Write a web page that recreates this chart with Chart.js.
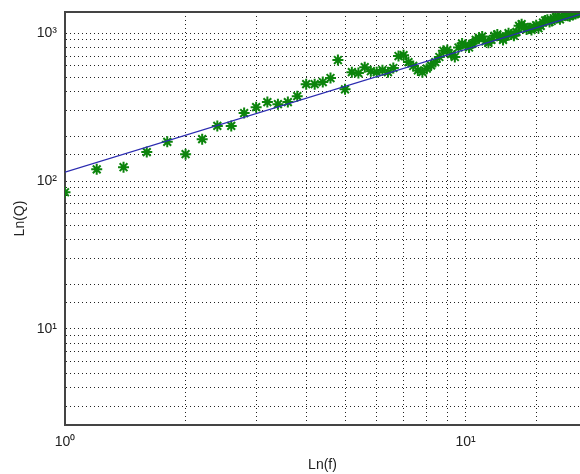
<!DOCTYPE html>
<html>
<head>
<meta charset="utf-8">
<script src="https://cdn.jsdelivr.net/npm/chart.js@4/dist/chart.umd.min.js"></script>
<style>
  html, body { margin: 0; padding: 0; background: #fff; }
</style>
</head>
<body>
<canvas id="fitChart" width="580" height="474"></canvas>
<script>
const fValues = [
  1.0, 1.2, 1.4, 1.6, 1.8, 2.0, 2.2, 2.4, 2.6, 2.8,
  3.0, 3.2, 3.4, 3.6, 3.8, 4.0, 4.2, 4.4, 4.6, 4.8,
  5.0, 5.2, 5.4, 5.6, 5.8, 6.0, 6.2, 6.4, 6.6, 6.8,
  7.0, 7.2, 7.4, 7.6, 7.8, 8.0, 8.2, 8.4, 8.6, 8.8,
  9.0, 9.2, 9.4, 9.6, 9.8, 10.0, 10.2, 10.4, 10.6, 10.8,
  11.0, 11.2, 11.4, 11.6, 11.8, 12.0, 12.2, 12.4, 12.6, 12.8,
  13.0, 13.2, 13.4, 13.6, 13.8, 14.0, 14.2, 14.4, 14.6, 14.8,
  15.0, 15.2, 15.4, 15.6, 15.8, 16.0, 16.2, 16.4, 16.6, 16.8,
  17.0, 17.2, 17.4, 17.6, 17.8, 18.0, 18.2, 18.4, 18.6, 18.8,
  19.0, 19.2
];
const qValues = [
  84, 120, 124, 157, 184, 152, 192, 236, 236, 288,
  316, 342, 331, 342, 375, 452, 452, 467, 497, 658,
  417, 545, 537, 589, 553, 545, 562, 545, 581, 700,
  710, 637, 600, 560, 545, 575, 605, 637, 690, 760,
  768, 720, 690, 800, 850, 830, 800, 850, 900, 930,
  950, 880, 860, 900, 960, 980, 940, 900, 950, 1000,
  980, 960, 1020, 1120, 1150, 1100, 1060, 1080, 1050, 1100,
  1130, 1080, 1120, 1180, 1220, 1230, 1190, 1210, 1260, 1280,
  1270, 1240, 1290, 1320, 1330, 1310, 1300, 1340, 1360, 1350,
  1370, 1390
];
// fitted line, end points
const fitF = [1, 19.3];
const fitQ = [115, 1342];

const decadeLabels = { 1: "10\u2070", 10: "10\u00b9", 100: "10\u00b2", 1000: "10\u00b3" };

function decadeTick(value) {
  return decadeLabels[value] || "";
}

// no extra space for edge labels, the plot runs to the canvas edge
function noEdgePadding(scale) {
  scale.paddingTop = 0;
  scale.paddingBottom = 0;
  scale.paddingLeft = 0;
  scale.paddingRight = 0;
}

const topBorder = {
  id: "topBorder",
  afterDraw(chart) {
    const { ctx, chartArea } = chart;
    ctx.save();
    ctx.strokeStyle = "#444";
    ctx.lineWidth = 2;
    ctx.beginPath();
    ctx.moveTo(chartArea.left, chartArea.top);
    ctx.lineTo(chartArea.right, chartArea.top);
    ctx.stroke();
    ctx.restore();
  }
};

const font = { family: "'Liberation Sans', Arial, sans-serif", size: 14 };

new Chart(document.getElementById("fitChart"), {
  type: "scatter",
  data: {
    datasets: [
      {
        label: "fit",
        type: "line",
        data: fitF.map((f, i) => ({ x: f, y: fitQ[i] })),
        borderColor: "#2b2bb0",
        borderWidth: 1.2,
        pointRadius: 0,
        fill: false,
      },
      {
        label: "Q",
        data: fValues.map((f, i) => ({ x: f, y: qValues[i] })),
        pointStyle: "star",
        pointRadius: 5.5,
        borderColor: "#0c840c",
        backgroundColor: "#0c840c",
        borderWidth: 2,
      },
    ],
  },
  options: {
    responsive: false,
    animation: false,
    layout: { autoPadding: false, padding: { top: 12, right: 0, left: 0, bottom: 0 } },
    plugins: { legend: { display: false }, tooltip: { enabled: false } },
    scales: {
      x: {
        type: "logarithmic",
        min: 1,
        max: 19.3,
        afterFit(scale) { scale.height = 49; noEdgePadding(scale); },
        grid: { color: "#222", lineWidth: 1, drawTicks: false },
        border: { color: "#444", width: 2, dash: [1, 3] },
        ticks: {
          autoSkip: false,
          maxRotation: 0,
          padding: 9,
          color: "#222",
          font: font,
          callback: decadeTick,
        },
        title: {
          display: true,
          text: "Ln(f)",
          color: "#222",
          font: font,
          padding: { top: 5, bottom: 0 },
        },
      },
      y: {
        type: "logarithmic",
        min: 2.24,
        max: 1390,
        afterFit(scale) { scale.width = 65; noEdgePadding(scale); },
        grid: { color: "#222", lineWidth: 1, drawTicks: false },
        border: { color: "#444", width: 2, dash: [1, 3] },
        ticks: {
          autoSkip: false,
          padding: 8,
          color: "#222",
          font: font,
          callback: decadeTick,
        },
        title: {
          display: true,
          text: "Ln(Q)",
          color: "#222",
          font: font,
          padding: { top: 12, bottom: 0 },
        },
      },
    },
  },
  plugins: [topBorder],
});
</script>
</body>
</html>
